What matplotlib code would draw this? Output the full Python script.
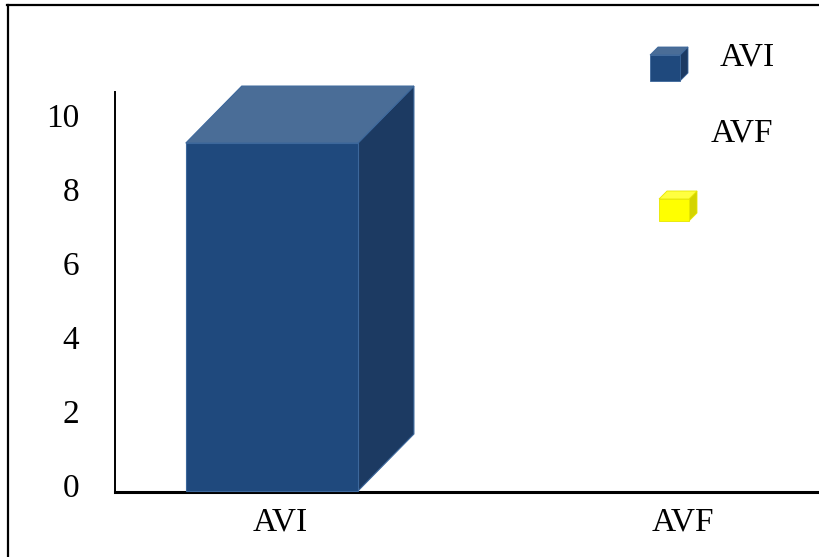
import matplotlib
matplotlib.use("Agg")
import matplotlib.pyplot as plt
from matplotlib.patches import Polygon
from matplotlib.lines import Line2D

categories = ["AVI", "AVF"]
values = [9.35, 0.0]
series_names = ["AVI", "AVF"]
yticks = [0, 2, 4, 6, 8, 10]

W, H = 819, 557
plt.rcParams['font.family'] = ['Liberation Serif', 'DejaVu Serif']

fig = plt.figure(figsize=(W / 100, H / 100), dpi=100)

# overlay axes in pixel coordinates (top-left origin)
ov = fig.add_axes([0, 0, 1, 1])
ov.set_xlim(0, W)
ov.set_ylim(H, 0)
ov.axis('off')
ov.set_zorder(5)

# main axes
ax_l, ax_r, ax_t, ax_b = 115, 819, 92, 492
ax = fig.add_axes([ax_l / W, (H - ax_b) / H, (ax_r - ax_l) / W, (ax_b - ax_t) / H])
xlim = (-0.409, 1.337)
ylim = (-0.08, 10.73)
ax.set_xlim(*xlim)
ax.set_ylim(*ylim)
px_x = (ax_r - ax_l) / (xlim[1] - xlim[0])
px_y = (ax_b - ax_t) / (ylim[1] - ylim[0])

FS = 24

for s in ['top', 'right']:
    ax.spines[s].set_visible(False)
ax.spines['left'].set_linewidth(1.4)
ax.spines['bottom'].set_linewidth(2.2)
ax.set_yticks(yticks)
ax.set_yticklabels([str(t) for t in yticks])
ax.set_xticks(range(len(categories)))
ax.set_xticklabels(categories)
ax.tick_params(axis='y', length=0, pad=26, labelsize=FS)
ax.tick_params(axis='x', length=0, pad=11, labelsize=FS)
for lbl in ax.get_yticklabels():
    lbl.set_va('center')

front_c = '#1F497D'
top_c = '#4A6D97'
side_c = '#1C3A62'
edge_c = '#3C679B'
bw = 0.427
off = -0.02
ddx = 56 / px_x
ddy = 57 / px_y
base = ylim[0] + 1.0 / px_y
for i, v in enumerate(values):
    if v <= 0:
        continue
    x0 = i + off - bw / 2
    x1 = i + off + bw / 2
    side = Polygon([(x1, base), (x1 + ddx, base + ddy), (x1 + ddx, v + ddy), (x1, v)],
                   closed=True, fc=side_c, ec=edge_c, lw=0.8, clip_on=False, zorder=3)
    top = Polygon([(x0, v), (x1, v), (x1 + ddx, v + ddy), (x0 + ddx, v + ddy)],
                  closed=True, fc=top_c, ec=edge_c, lw=0.8, clip_on=False, zorder=3)
    front = Polygon([(x0, base), (x1, base), (x1, v), (x0, v)],
                    closed=True, fc=front_c, ec=edge_c, lw=0.8, clip_on=False, zorder=4)
    for p in (side, top, front):
        ax.add_patch(p)

# figure border (left and top only visible)
ov.add_line(Line2D([8, 8], [H + 5, 5], color='black', lw=1.6))
ov.add_line(Line2D([7, W + 5], [5, 5], color='black', lw=1.6))


def cube(x, y, w, h, d, fc, tc, sc, ec):
    # x,y = front face top-left in pixels
    ov.add_patch(Polygon([(x + w, y), (x + w + d, y - d), (x + w + d, y + h - d), (x + w, y + h)],
                         closed=True, fc=sc, ec=ec, lw=0.6))
    ov.add_patch(Polygon([(x, y), (x + d, y - d), (x + w + d, y - d), (x + w, y)],
                         closed=True, fc=tc, ec=ec, lw=0.6))
    ov.add_patch(Polygon([(x, y), (x + w, y), (x + w, y + h), (x, y + h)],
                         closed=True, fc=fc, ec=ec, lw=0.6))


cube(650, 55, 30, 26, 8, front_c, top_c, side_c, edge_c)
cube(659, 199, 30, 22, 8, '#FFFF00', '#FFFF40', '#D4D400', '#E6E600')
ov.text(720, 57, series_names[0], fontsize=FS, va='center', ha='left')
ov.text(711, 133, series_names[1], fontsize=FS, va='center', ha='left')

fig.savefig('out.png', dpi=100)
